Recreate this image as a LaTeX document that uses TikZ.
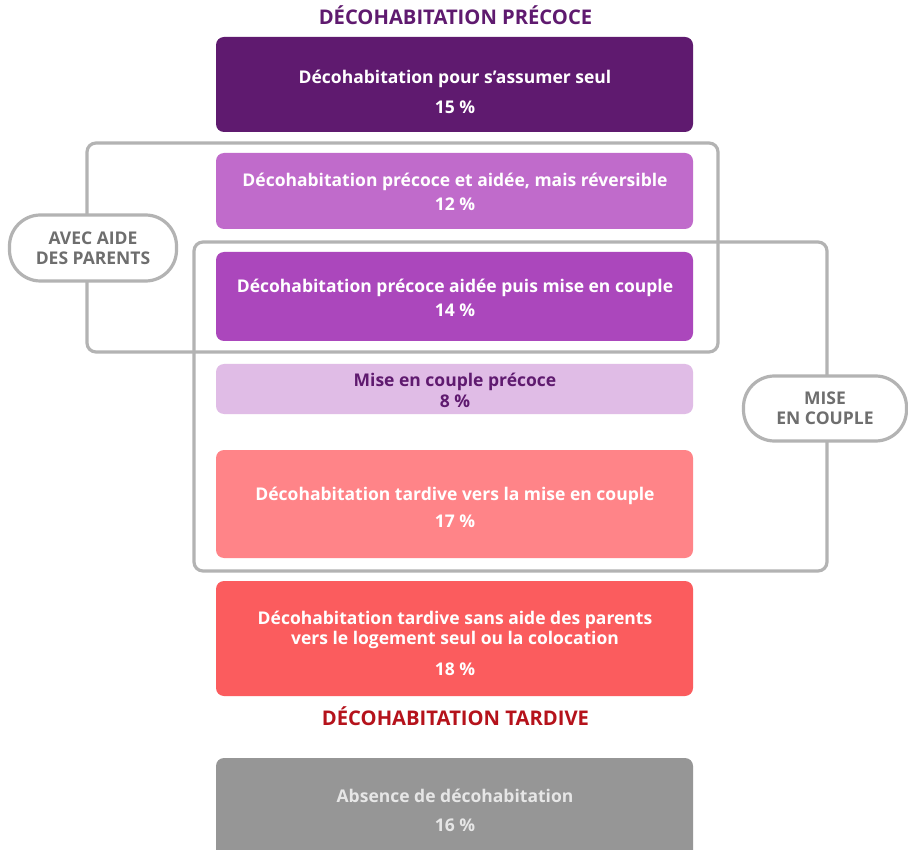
\documentclass[tikz,border=0pt]{standalone}
\usepackage{fontspec}
\setmainfont{Open Sans}
\definecolor{dpurple}{HTML}{5F1A6F}
\definecolor{cbox2}{HTML}{C06BCB}
\definecolor{cbox3}{HTML}{AB47BC}
\definecolor{cbox4}{HTML}{E0BCE6}
\definecolor{cbox5}{HTML}{FF8488}
\definecolor{cbox6}{HTML}{FB5C5E}
\definecolor{cbox7}{HTML}{969696}
\definecolor{ctard}{HTML}{B5121B}
\definecolor{framegray}{HTML}{B3B3B3}
\definecolor{pilltext}{HTML}{6E6E6E}
\definecolor{lightgray}{HTML}{E6E6E6}
\begin{document}
\begin{tikzpicture}[x=1pt,y=-1pt,
  box/.style={rectangle, rounded corners=8pt, inner sep=0pt, minimum width=477pt},
  frame/.style={rectangle, draw=framegray, line width=3.2pt, rounded corners=9pt, inner sep=0pt},
  pill/.style={rectangle, draw=framegray, line width=3.2pt, fill=white, rounded corners=31pt, inner sep=0pt,
    text=pilltext, font=\bfseries\fontsize{17.5}{20}\selectfont, align=center},
  lbl/.style={font=\bfseries\fontsize{17.5}{20}\selectfont, text=white, anchor=base, align=center, inner sep=0pt},
  ttl/.style={font=\bfseries\fontsize{20.2}{24}\selectfont, anchor=base, inner sep=0pt}
]
\clip (0,0) rectangle (908,850);
\fill[white] (0,0) rectangle (908,850);

% frames
\node[frame, minimum width=631pt, minimum height=209pt] (fa) at (402.5,247.5) {};
\node[frame, minimum width=633pt, minimum height=329pt] (fb) at (510.5,406.5) {};

% titles
\node[ttl, text=dpurple] (tp) at (455.5,24.5) {DÉCOHABITATION PRÉCOCE};
\node[ttl, text=ctard] (tt) at (455.5,725.5) {DÉCOHABITATION TARDIVE};

% boxes
\node[box, fill=dpurple, minimum height=95pt] (b1) at (454.5,84.5) {};
\node[box, fill=cbox2, minimum height=76pt] (b2) at (454.5,191) {};
\node[box, fill=cbox3, minimum height=89pt] (b3) at (454.5,296.5) {};
\node[box, fill=cbox4, minimum height=50pt] (b4) at (454.5,389) {};
\node[box, fill=cbox5, minimum height=108pt] (b5) at (454.5,504) {};
\node[box, fill=cbox6, minimum height=115pt] (b6) at (454.5,638.5) {};
\node[box, fill=cbox7, minimum height=110pt] (b7) at (454.5,813) {};

% box texts
\node[lbl] (l1a) at (455,84) {Décohabitation pour s’assumer seul};
\node[lbl] (l1b) at (455,114) {15 \%};
\node[lbl] (l2a) at (455,186.5) {Décohabitation précoce et aidée, mais réversible};
\node[lbl] (l2b) at (455,210.5) {12 \%};
\node[lbl] (l3a) at (455,292.5) {Décohabitation précoce aidée puis mise en couple};
\node[lbl] (l3b) at (455,316.5) {14 \%};
\node[lbl, text=dpurple] (l4a) at (455,386.5) {Mise en couple précoce};
\node[lbl, text=dpurple] (l4b) at (455,407.5) {8 \%};
\node[lbl] (l5a) at (455,500.5) {Décohabitation tardive vers la mise en couple};
\node[lbl] (l5b) at (455,527.5) {17 \%};
\node[lbl] (l6a) at (455,644.5) {Décohabitation tardive sans aide des parents\\vers le logement seul ou la colocation};
\node[lbl] (l6b) at (455,675.5) {18 \%};
\node[lbl, text=lightgray] (l7a) at (455,802.5) {Absence de décohabitation};
\node[lbl, text=lightgray] (l7b) at (455,831.5) {16 \%};

% pills
\node[pill, minimum width=167pt, minimum height=66pt] (pa) at (93,248) {AVEC AIDE\\DES PARENTS};
\node[pill, minimum width=163pt, minimum height=65pt] (pb) at (825,408.5) {MISE\\EN COUPLE};
\end{tikzpicture}
\end{document}
